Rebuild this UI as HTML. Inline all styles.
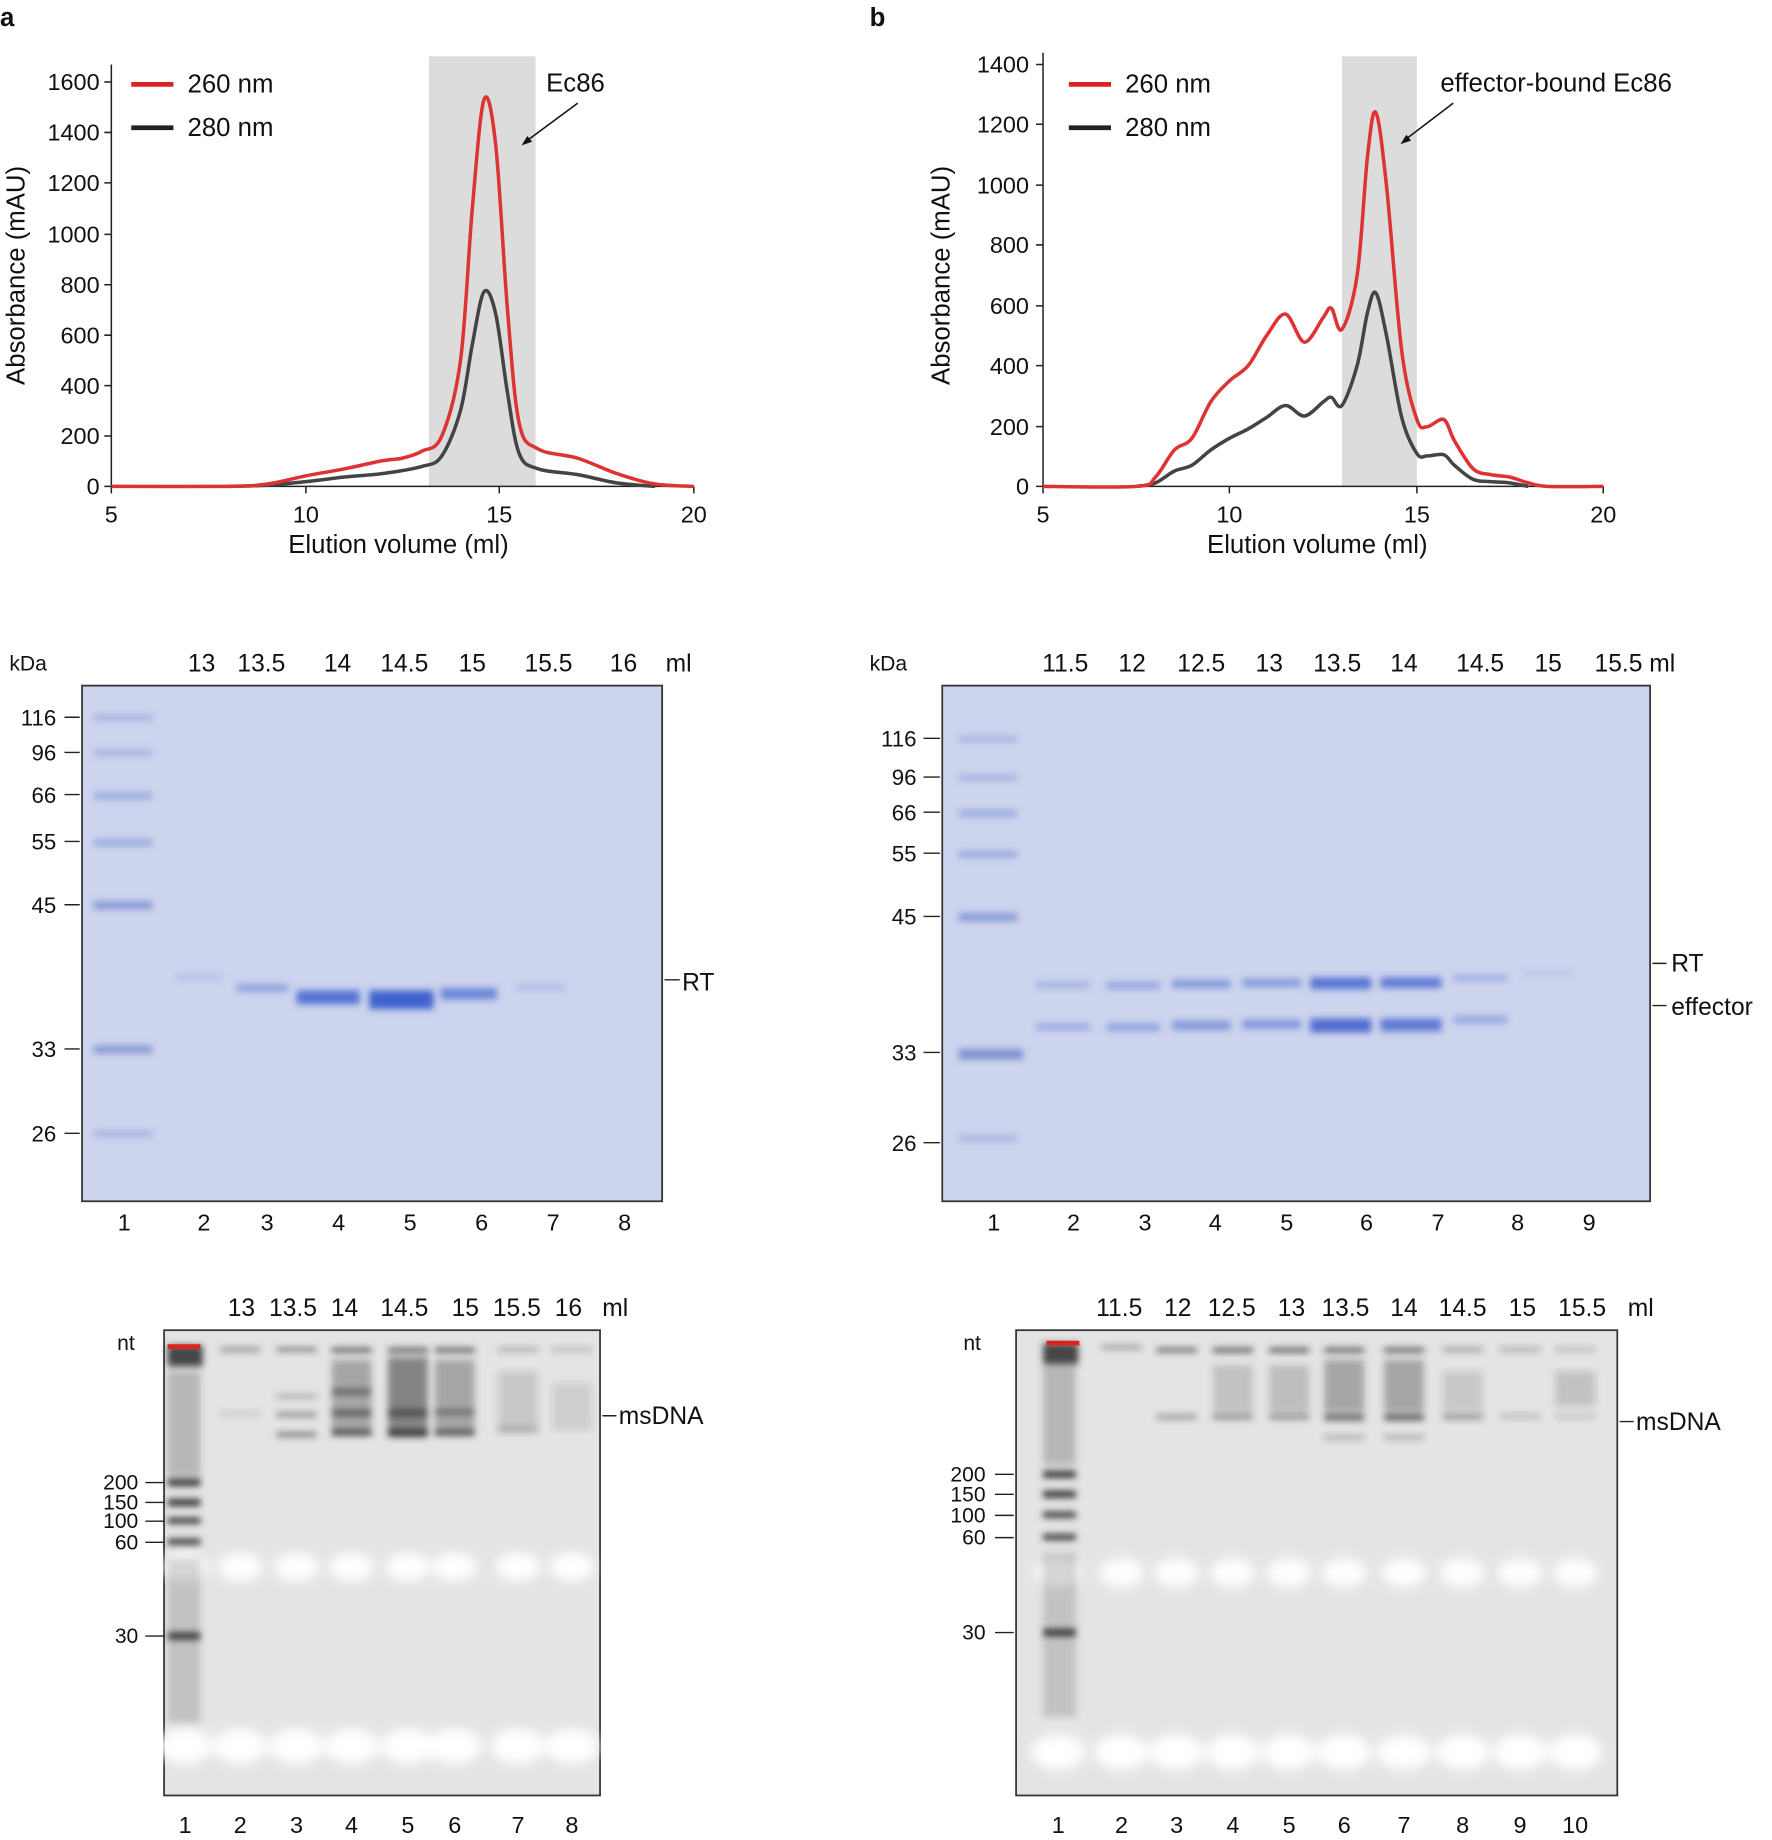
<!DOCTYPE html>
<html><head><meta charset="utf-8"><style>html,body{margin:0;padding:0;background:#fff}svg{display:block}text{font-family:"Liberation Sans",sans-serif;fill:#111}</style></head><body>
<svg id="s" width="1772" height="1840" viewBox="0 0 1512 1570" preserveAspectRatio="none" xmlns="http://www.w3.org/2000/svg">
<defs>
<filter id="bl" x="-50%" y="-50%" width="200%" height="200%"><feGaussianBlur stdDeviation="3"/></filter>
<filter id="bl2" x="-50%" y="-50%" width="200%" height="200%"><feGaussianBlur stdDeviation="5"/></filter>
</defs>
<text x="0" y="22" font-size="22" font-weight="bold">a</text>
<text x="742" y="22" font-size="22" font-weight="bold">b</text>
<!-- Chart a -->
<rect x="366" y="48" width="91" height="367" fill="#dcdcdc"/>
<g stroke="#222" stroke-width="1.3" fill="none"><path d="M95 55V415H592"/>
<path d="M89 415H95M89 372H95M89 329H95M89 286H95M89 243H95M89 200H95M89 156H95M89 113H95M89 70H95M95 415v6M261 415v6M426 415v6M592 415v6"/></g>
<g font-size="20" text-anchor="end"><text x="85" y="422">0</text><text x="85" y="379">200</text><text x="85" y="336">400</text><text x="85" y="293">600</text><text x="85" y="250">800</text><text x="85" y="207">1000</text><text x="85" y="163">1200</text><text x="85" y="120">1400</text><text x="85" y="77">1600</text></g>
<g font-size="20" text-anchor="middle"><text x="95" y="446">5</text><text x="261" y="446">10</text><text x="426" y="446">15</text><text x="592" y="446">20</text></g>
<text x="340" y="472" font-size="22" text-anchor="middle">Elution volume (ml)</text>
<text transform="translate(21,235) rotate(-90)" font-size="22" text-anchor="middle">Absorbance (mAU)</text>
<polyline class="sm" fill="none" stroke="#444" stroke-width="3" stroke-linejoin="round" points="194,415 228,414 261,411 294,407 327,404 360,398 377,389 393,350 403,294 413,249 423,268 433,335 443,387 459,400 493,405 526,412 559,415"/>
<polyline class="sm" fill="none" stroke="#dd3333" stroke-width="3" stroke-linejoin="round" points="95,415 194,415 228,413 261,406 294,400 327,393 343,391 360,385 377,372 393,307 403,178 413,85 423,124 433,264 443,361 459,383 493,391 526,404 559,413 592,415"/>
<path d="M112 72H148" stroke="#dd2222" stroke-width="4"/><path d="M112 109H148" stroke="#222" stroke-width="4"/>
<text x="160" y="79" font-size="22">260 nm</text><text x="160" y="116" font-size="22">280 nm</text>
<text x="466" y="78" font-size="22">Ec86</text>
<path d="M493 88L447 122" stroke="#111" stroke-width="1.3"/><path d="M445 124l9-3-4-5z" fill="#111"/>
<!-- Chart b -->
<rect x="1145" y="48" width="64" height="367" fill="#dcdcdc"/>
<g stroke="#222" stroke-width="1.3" fill="none"><path d="M890 45V415H1368"/>
<path d="M884 415H890M884 364H890M884 312H890M884 261H890M884 209H890M884 158H890M884 106H890M884 55H890M890 415v6M1049 415v6M1209 415v6M1368 415v6"/></g>
<g font-size="20" text-anchor="end"><text x="878" y="422">0</text><text x="878" y="371">200</text><text x="878" y="319">400</text><text x="878" y="268">600</text><text x="878" y="216">800</text><text x="878" y="165">1000</text><text x="878" y="113">1200</text><text x="878" y="62">1400</text></g>
<g font-size="20" text-anchor="middle"><text x="890" y="446">5</text><text x="1049" y="446">10</text><text x="1209" y="446">15</text><text x="1368" y="446">20</text></g>
<text x="1124" y="472" font-size="22" text-anchor="middle">Elution volume (ml)</text>
<text transform="translate(810,235) rotate(-90)" font-size="22" text-anchor="middle">Absorbance (mAU)</text>
<polyline class="sm" fill="none" stroke="#444" stroke-width="3" stroke-linejoin="round" points="970,415 986,412 1002,402 1017,397 1033,384 1049,374 1065,366 1081,356 1097,346 1113,355 1129,343 1136,339 1145,346 1158,312 1167,266 1174,250 1183,286 1196,356 1209,387 1218,389 1232,388 1241,397 1257,409 1272,411 1288,412 1304,415"/>
<polyline class="sm" fill="none" stroke="#dd3333" stroke-width="3" stroke-linejoin="round" points="890,415 970,415 986,407 1002,384 1017,374 1033,343 1049,325 1065,312 1081,286 1097,268 1113,292 1129,271 1136,263 1145,281 1158,235 1167,132 1174,96 1183,158 1196,299 1209,358 1218,364 1232,358 1241,376 1257,400 1272,405 1288,407 1304,412 1320,415 1368,415"/>
<path d="M912 72H948" stroke="#dd2222" stroke-width="4"/><path d="M912 109H948" stroke="#222" stroke-width="4"/>
<text x="960" y="79" font-size="22">260 nm</text><text x="960" y="116" font-size="22">280 nm</text>
<text x="1229" y="78" font-size="22">effector-bound Ec86</text>
<path d="M1240 88L1198 120" stroke="#111" stroke-width="1.3"/><path d="M1195 123l9-3-4-5z" fill="#111"/>
<!-- Protein gel a -->
<text x="8" y="572" font-size="18">kDa</text>
<g font-size="21" text-anchor="middle"><text x="172" y="573">13</text><text x="223" y="573">13.5</text><text x="288" y="573">14</text><text x="345" y="573">14.5</text><text x="403" y="573">15</text><text x="468" y="573">15.5</text><text x="532" y="573">16</text><text x="579" y="573">ml</text></g>
<rect x="70" y="585" width="495" height="440" fill="#cdd4ed" stroke="#333" stroke-width="1.5"/>
<g fill="#6f86cf" filter="url(#bl)"><rect x="80" y="610" width="50" height="5" opacity=".45"/><rect x="80" y="640" width="50" height="5" opacity=".45"/><rect x="80" y="676" width="50" height="6" opacity=".55"/><rect x="80" y="716" width="50" height="6" opacity=".55"/><rect x="80" y="769" width="50" height="7" opacity=".75"/><rect x="80" y="892" width="50" height="7" opacity=".75"/><rect x="80" y="965" width="50" height="5" opacity=".45"/></g>
<g fill="#3a5ccc" filter="url(#bl)"><rect x="150" y="832" width="40" height="4" opacity=".2"/><rect x="202" y="840" width="44" height="6" opacity=".45"/><rect x="253" y="845" width="54" height="12" opacity=".8"/><rect x="315" y="845" width="55" height="16" opacity=".95"/><rect x="376" y="843" width="48" height="10" opacity=".65"/><rect x="440" y="840" width="42" height="5" opacity=".2"/></g>
<g stroke="#222" stroke-width="1.2"><path d="M55 612H68M55 642H68M55 678H68M55 718H68M55 772H68M55 895H68M55 967H68M567 836H580"/></g>
<g font-size="19" text-anchor="end"><text x="48" y="619">116</text><text x="48" y="649">96</text><text x="48" y="685">66</text><text x="48" y="725">55</text><text x="48" y="779">45</text><text x="48" y="902">33</text><text x="48" y="974">26</text></g>
<text x="582" y="845" font-size="21">RT</text>
<g font-size="20" text-anchor="middle"><text x="106" y="1050">1</text><text x="174" y="1050">2</text><text x="228" y="1050">3</text><text x="289" y="1050">4</text><text x="350" y="1050">5</text><text x="411" y="1050">6</text><text x="472" y="1050">7</text><text x="533" y="1050">8</text></g>
<!-- Protein gel b -->
<text x="742" y="572" font-size="18">kDa</text>
<g font-size="21" text-anchor="middle"><text x="909" y="573">11.5</text><text x="966" y="573">12</text><text x="1025" y="573">12.5</text><text x="1083" y="573">13</text><text x="1141" y="573">13.5</text><text x="1198" y="573">14</text><text x="1263" y="573">14.5</text><text x="1321" y="573">15</text><text x="1395" y="573">15.5 ml</text></g>
<rect x="804" y="585" width="604" height="440" fill="#cdd4ed" stroke="#333" stroke-width="1.5"/>
<g fill="#6f86cf" filter="url(#bl)"><rect x="818" y="628" width="50" height="5" opacity=".45"/><rect x="818" y="661" width="50" height="5" opacity=".45"/><rect x="818" y="691" width="50" height="6" opacity=".55"/><rect x="818" y="726" width="50" height="6" opacity=".55"/><rect x="818" y="779" width="50" height="7" opacity=".75"/><rect x="818" y="895" width="55" height="9" opacity=".85"/><rect x="818" y="969" width="50" height="5" opacity=".45"/></g>
<g fill="#3a5ccc" filter="url(#bl)">
<rect x="884" y="838" width="46" height="5" opacity=".3"/><rect x="884" y="873" width="46" height="6" opacity=".35"/>
<rect x="944" y="838" width="46" height="6" opacity=".4"/><rect x="944" y="873" width="46" height="7" opacity=".4"/>
<rect x="1000" y="836" width="50" height="7" opacity=".5"/><rect x="1000" y="871" width="50" height="8" opacity=".5"/>
<rect x="1060" y="835" width="50" height="7" opacity=".5"/><rect x="1060" y="870" width="50" height="8" opacity=".5"/>
<rect x="1118" y="834" width="52" height="10" opacity=".8"/><rect x="1118" y="869" width="52" height="12" opacity=".85"/>
<rect x="1178" y="834" width="52" height="9" opacity=".75"/><rect x="1178" y="869" width="52" height="11" opacity=".75"/>
<rect x="1240" y="832" width="46" height="5" opacity=".35"/><rect x="1240" y="867" width="46" height="6" opacity=".4"/>
<rect x="1300" y="829" width="42" height="4" opacity=".15"/></g>
<g stroke="#222" stroke-width="1.2"><path d="M788 630H802M788 663H802M788 693H802M788 728H802M788 782H802M788 898H802M788 975H802M1410 822H1422M1410 858H1422"/></g>
<g font-size="19" text-anchor="end"><text x="782" y="637">116</text><text x="782" y="670">96</text><text x="782" y="700">66</text><text x="782" y="735">55</text><text x="782" y="789">45</text><text x="782" y="905">33</text><text x="782" y="982">26</text></g>
<text x="1426" y="829" font-size="21">RT</text><text x="1426" y="866" font-size="21">effector</text>
<g font-size="20" text-anchor="middle"><text x="848" y="1050">1</text><text x="916" y="1050">2</text><text x="977" y="1050">3</text><text x="1037" y="1050">4</text><text x="1098" y="1050">5</text><text x="1166" y="1050">6</text><text x="1227" y="1050">7</text><text x="1295" y="1050">8</text><text x="1356" y="1050">9</text></g>
<!-- DNA gel a -->
<g font-size="21" text-anchor="middle"><text x="206" y="1123">13</text><text x="250" y="1123">13.5</text><text x="294" y="1123">14</text><text x="345" y="1123">14.5</text><text x="397" y="1123">15</text><text x="441" y="1123">15.5</text><text x="485" y="1123">16</text><text x="525" y="1123">ml</text></g>
<text x="100" y="1152" font-size="18">nt</text>
<rect x="140" y="1135" width="372" height="397" fill="#e4e4e4" stroke="#333" stroke-width="1.5"/>
<g fill="#fff" filter="url(#bl2)" id="wa"></g>
<g fill="#333" filter="url(#bl)">
<rect x="143" y="1148" width="30" height="18" opacity=".9"/><rect x="143" y="1262" width="28" height="6"/><rect x="143" y="1279" width="28" height="6"/><rect x="143" y="1295" width="28" height="5"/><rect x="143" y="1313" width="28" height="5"/><rect x="143" y="1393" width="28" height="6"/><rect x="143" y="1170" width="28" height="90" opacity=".25"/><rect x="143" y="1330" width="28" height="140" opacity=".2"/>
<rect x="188" y="1150" width="34" height="3" opacity=".6"/><rect x="236" y="1150" width="34" height="3" opacity=".7"/><rect x="283" y="1150" width="34" height="4" opacity=".8"/><rect x="331" y="1150" width="34" height="4" opacity=".8"/><rect x="371" y="1150" width="34" height="4" opacity=".8"/><rect x="425" y="1150" width="34" height="3" opacity=".4"/><rect x="471" y="1150" width="34" height="3" opacity=".3"/>
<rect x="236" y="1190" width="34" height="3" opacity=".4"/><rect x="236" y="1205" width="34" height="4" opacity=".5"/><rect x="236" y="1222" width="34" height="4" opacity=".6"/>
<rect x="283" y="1160" width="34" height="60" opacity=".35"/><rect x="283" y="1220" width="34" height="5" opacity=".9"/><rect x="283" y="1203" width="34" height="5" opacity=".7"/><rect x="283" y="1185" width="34" height="5" opacity=".6"/>
<rect x="331" y="1158" width="34" height="65" opacity=".55"/><rect x="331" y="1220" width="34" height="6" opacity="1"/><rect x="331" y="1203" width="34" height="5" opacity=".8"/>
<rect x="371" y="1160" width="34" height="60" opacity=".35"/><rect x="371" y="1220" width="34" height="5" opacity=".85"/><rect x="371" y="1203" width="34" height="4" opacity=".6"/>
<rect x="425" y="1170" width="34" height="50" opacity=".15"/><rect x="425" y="1218" width="34" height="4" opacity=".35"/>
<rect x="471" y="1180" width="34" height="40" opacity=".12"/><rect x="188" y="1205" width="34" height="3" opacity=".2"/></g>
<rect x="143" y="1147" width="28" height="4" fill="#d22"/>
<g stroke="#222" stroke-width="1.2"><path d="M124 1265H140M124 1282H140M124 1298H140M124 1316H140M124 1396H140M514 1208H526"/></g>
<g font-size="18" text-anchor="end"><text x="118" y="1271">200</text><text x="118" y="1288">150</text><text x="118" y="1304">100</text><text x="118" y="1322">60</text><text x="118" y="1402">30</text></g>
<text x="528" y="1215" font-size="21">msDNA</text>
<g font-size="20" text-anchor="middle"><text x="158" y="1564">1</text><text x="205" y="1564">2</text><text x="253" y="1564">3</text><text x="300" y="1564">4</text><text x="348" y="1564">5</text><text x="388" y="1564">6</text><text x="442" y="1564">7</text><text x="488" y="1564">8</text></g>
<!-- DNA gel b -->
<g font-size="21" text-anchor="middle"><text x="955" y="1123">11.5</text><text x="1005" y="1123">12</text><text x="1051" y="1123">12.5</text><text x="1102" y="1123">13</text><text x="1148" y="1123">13.5</text><text x="1198" y="1123">14</text><text x="1248" y="1123">14.5</text><text x="1299" y="1123">15</text><text x="1350" y="1123">15.5</text><text x="1400" y="1123">ml</text></g>
<text x="822" y="1152" font-size="18">nt</text>
<rect x="867" y="1135" width="513" height="397" fill="#e4e4e4" stroke="#333" stroke-width="1.5"/>
<g fill="#fff" filter="url(#bl2)" id="wb"></g>
<g fill="#333" filter="url(#bl)">
<rect x="890" y="1146" width="30" height="18" opacity=".9"/><rect x="890" y="1255" width="28" height="6"/><rect x="890" y="1272" width="28" height="6"/><rect x="890" y="1290" width="28" height="5"/><rect x="890" y="1309" width="28" height="5"/><rect x="890" y="1390" width="28" height="6"/><rect x="890" y="1165" width="28" height="85" opacity=".25"/><rect x="890" y="1325" width="28" height="140" opacity=".2"/>
<rect x="940" y="1148" width="34" height="3" opacity=".5"/><rect x="987" y="1150" width="34" height="4" opacity=".7"/><rect x="1035" y="1150" width="34" height="4" opacity=".8"/><rect x="1083" y="1150" width="34" height="4" opacity=".8"/><rect x="1130" y="1150" width="34" height="4" opacity=".8"/><rect x="1181" y="1150" width="34" height="4" opacity=".8"/><rect x="1231" y="1150" width="34" height="3" opacity=".5"/><rect x="1280" y="1150" width="34" height="3" opacity=".4"/><rect x="1327" y="1150" width="34" height="3" opacity=".3"/>
<rect x="987" y="1207" width="34" height="4" opacity=".45"/><rect x="1035" y="1207" width="34" height="4" opacity=".55"/><rect x="1083" y="1207" width="34" height="4" opacity=".55"/><rect x="1130" y="1207" width="34" height="5" opacity=".75"/><rect x="1181" y="1207" width="34" height="5" opacity=".8"/><rect x="1231" y="1207" width="34" height="4" opacity=".5"/><rect x="1280" y="1207" width="34" height="3" opacity=".3"/><rect x="1327" y="1207" width="34" height="3" opacity=".25"/>
<rect x="1035" y="1165" width="34" height="40" opacity=".2"/><rect x="1083" y="1165" width="34" height="40" opacity=".22"/><rect x="1130" y="1160" width="34" height="45" opacity=".35"/><rect x="1181" y="1160" width="34" height="45" opacity=".35"/><rect x="1231" y="1170" width="34" height="35" opacity=".15"/><rect x="1327" y="1170" width="34" height="30" opacity=".18"/>
<rect x="1130" y="1225" width="34" height="3" opacity=".4"/><rect x="1181" y="1225" width="34" height="3" opacity=".4"/></g>
<rect x="893" y="1144" width="28" height="4" fill="#d22"/>
<g stroke="#222" stroke-width="1.2"><path d="M849 1258H865M849 1275H865M849 1293H865M849 1312H865M849 1393H865M1382 1213H1394"/></g>
<g font-size="18" text-anchor="end"><text x="841" y="1264">200</text><text x="841" y="1281">150</text><text x="841" y="1299">100</text><text x="841" y="1318">60</text><text x="841" y="1399">30</text></g>
<text x="1396" y="1220" font-size="21">msDNA</text>
<g font-size="20" text-anchor="middle"><text x="903" y="1564">1</text><text x="957" y="1564">2</text><text x="1004" y="1564">3</text><text x="1052" y="1564">4</text><text x="1100" y="1564">5</text><text x="1147" y="1564">6</text><text x="1198" y="1564">7</text><text x="1248" y="1564">8</text><text x="1297" y="1564">9</text><text x="1344" y="1564">10</text></g>
</svg>
<script>
var NS="http://www.w3.org/2000/svg";
document.querySelectorAll("polyline.sm").forEach(function(pl){
 var p=pl.getAttribute("points").trim().split(/\s+/).map(function(s){return s.split(",").map(Number)});
 var d="M"+p[0][0]+" "+p[0][1];
 for(var i=0;i<p.length-1;i++){var p0=p[i-1]||p[i],p1=p[i],p2=p[i+1],p3=p[i+2]||p2;
  var c1x=p1[0]+(p2[0]-p0[0])/6,c1y=p1[1]+(p2[1]-p0[1])/6,c2x=p2[0]-(p3[0]-p1[0])/6,c2y=p2[1]-(p3[1]-p1[1])/6;
  d+="C"+c1x.toFixed(1)+" "+c1y.toFixed(1)+" "+c2x.toFixed(1)+" "+c2y.toFixed(1)+" "+p2[0]+" "+p2[1];}
 var e=document.createElementNS(NS,"path");e.setAttribute("d",d);
 ["fill","stroke","stroke-width","stroke-linejoin"].forEach(function(a){e.setAttribute(a,pl.getAttribute(a))});
 pl.parentNode.replaceChild(e,pl);});
function blobs(id,xs,y1,y2){var g=document.getElementById(id);xs.forEach(function(x){
 [[y1,15,12],[y2,19,15]].forEach(function(b){var e=document.createElementNS(NS,"ellipse");e.setAttribute("cx",x);e.setAttribute("cy",b[0]);e.setAttribute("rx",b[1]+4);e.setAttribute("ry",b[2]);g.appendChild(e);});});}
blobs("wa",[158,205,253,300,348,388,442,488],1337,1490);
blobs("wb",[903,957,1004,1052,1100,1147,1198,1248,1297,1344],1342,1495);
</script>
</body></html>
